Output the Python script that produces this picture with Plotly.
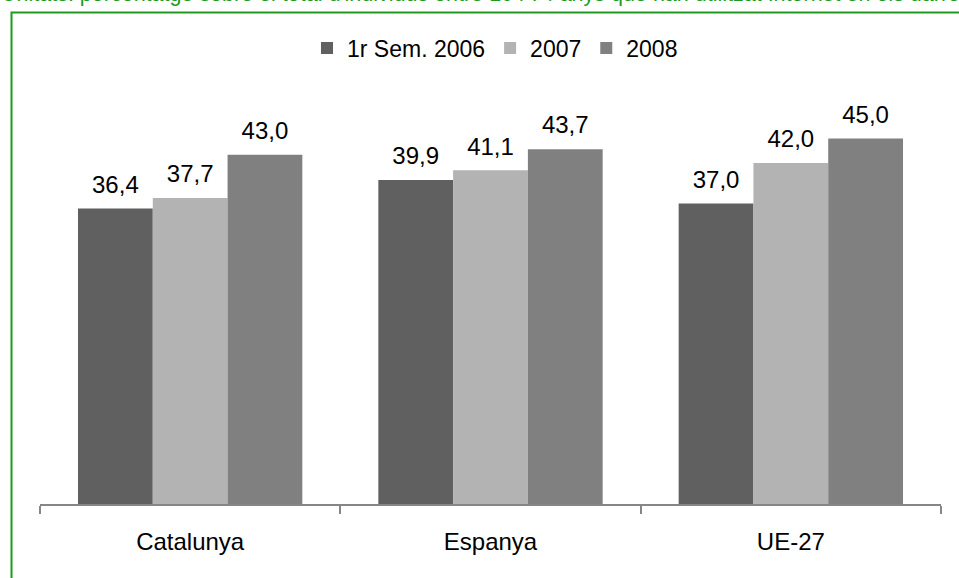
import plotly.graph_objects as go

categories = ["Catalunya", "Espanya", "UE-27"]
series_names = ["1r Sem. 2006", "2007", "2008"]
values_2006 = [36.4, 39.9, 37.0]
values_2007 = [37.7, 41.1, 42.0]
values_2008 = [43.0, 43.7, 45.0]
colors = ["#606060", "#b3b3b3", "#808080"]
title_text = ("Unitats: percentatge sobre el total d'individus entre 16 i 74 anys "
              "que han utilitzat Internet en els darrers tres mesos")

W, H = 959, 578
ML, MR, MT, MB = 40, 18, 98, 74
FONT = "Liberation Sans, Arial, sans-serif"
FS = 24

fig = go.Figure()
all_vals = [values_2006, values_2007, values_2008]
for name, vals, col in zip(series_names, all_vals, colors):
    fig.add_trace(go.Bar(
        x=categories, y=vals, name=name, marker=dict(color=col, line=dict(width=0)),
        offsetgroup=name, alignmentgroup="a",
    ))
for name, vals in zip(series_names, all_vals):
    fig.add_trace(go.Scatter(
        x=categories, y=vals, mode="markers+text",
        text=[f"{v:.1f}".replace(".", ",") for v in vals],
        textposition="top center",
        textfont=dict(size=FS, color="#000000", family=FONT),
        marker=dict(size=14, opacity=0),
        showlegend=False, hoverinfo="skip", cliponaxis=False,
        offsetgroup=name, alignmentgroup="a",
    ))

pw, ph = W - ML - MR, H - MT - MB
def px(x):
    return (x - ML) / pw
def py(y):
    return (H - MB - y) / ph

fig.update_layout(
    width=W, height=H,
    margin=dict(l=ML, r=MR, t=MT, b=MB),
    paper_bgcolor="white", plot_bgcolor="white",
    barmode="group", bargap=0.253, bargroupgap=0,
    scattermode="group", scattergap=0.253,
    font=dict(family=FONT, size=FS, color="#000000"),
    showlegend=True,
    legend=dict(orientation="h", x=0.505, xanchor="center", y=py(48), yanchor="middle",
                font=dict(size=FS - 1, family=FONT, color="#000000"),
                bgcolor="rgba(0,0,0,0)", itemwidth=30, tracegroupgap=0),
    xaxis=dict(
        type="category", showline=True, linecolor="#868686", linewidth=2,
        ticks="outside", tickson="boundaries", ticklen=8, tickwidth=2, tickcolor="#868686",
        showgrid=False, zeroline=False, ticklabelstandoff=15,
        tickfont=dict(size=FS, family=FONT, color="#000000"),
        range=[-0.5, 2.5],
    ),
    yaxis=dict(visible=False, range=[0, 50], showgrid=False, zeroline=False),
    shapes=[dict(type="rect", xref="paper", yref="paper",
                 x0=px(11.5), x1=px(1100), y0=py(900), y1=py(12.5),
                 line=dict(color="#1e9a1e", width=2), fillcolor="rgba(0,0,0,0)",
                 layer="below")],
    annotations=[dict(text=title_text, xref="paper", yref="paper",
                      x=px(-1), y=py(8), xanchor="left", yanchor="bottom",
                      showarrow=False, font=dict(size=21.5, family=FONT, color="#1e9a1e"))],
)

fig.write_html("out.html", config={"displayModeBar": False},
               post_script="document.body.style.margin='0px';document.body.style.overflow='hidden';")
